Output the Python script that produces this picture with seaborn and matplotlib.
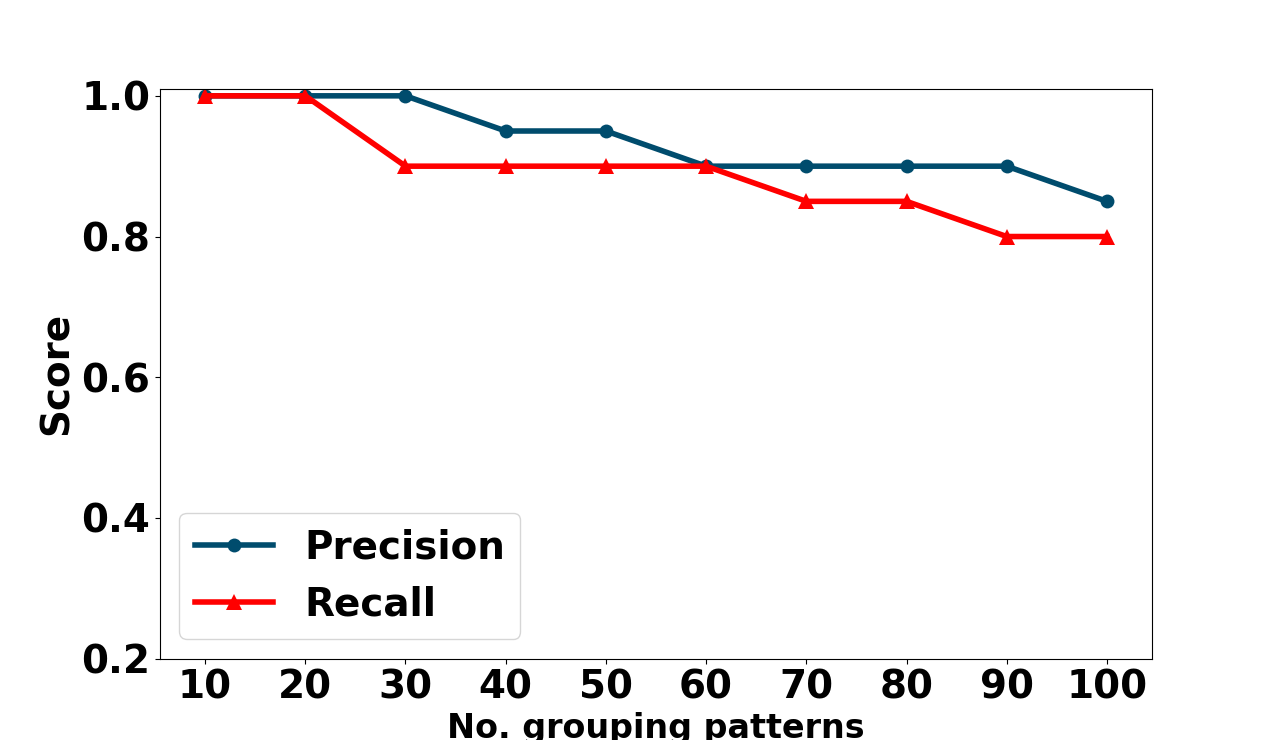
import pandas as pd
import matplotlib
matplotlib.use("Agg")
import matplotlib.pyplot as plt
import seaborn as sns

# Data
patterns = [10, 20, 30, 40, 50, 60, 70, 80, 90, 100]
precision = [1.0, 1.0, 1.0, 0.95, 0.95, 0.9, 0.9, 0.9, 0.9, 0.85]
recall = [1.0, 1.0, 0.9, 0.9, 0.9, 0.9, 0.85, 0.85, 0.8, 0.8]

df = pd.DataFrame({'patterns': patterns, 'Precision': precision, 'Recall': recall})

fig, ax = plt.subplots(figsize=(12.8, 7.4), dpi=100)

sns.lineplot(x='patterns', y='Precision', data=df, ax=ax, color='#004c6d',
             marker='o', markersize=10, linewidth=4, markeredgewidth=0,
             label='Precision')
sns.lineplot(x='patterns', y='Recall', data=df, ax=ax, color='red',
             marker='^', markersize=11, linewidth=4, markeredgewidth=0,
             label='Recall')

ax.set_ylim(0.2, 1.01)
ax.set_xticks(patterns)
ax.set_yticks([0.2, 0.4, 0.6, 0.8, 1.0])
ax.tick_params(axis='both', labelsize=28)
for lbl in ax.get_xticklabels() + ax.get_yticklabels():
    lbl.set_fontweight('bold')

ax.set_xlabel('No. grouping patterns', fontsize=24, fontweight='bold')
ax.set_ylabel('Score', fontsize=28, fontweight='bold')

leg = ax.legend(loc='lower left', prop={'size': 28, 'weight': 'bold'})

plt.savefig('out.png', dpi=100)
